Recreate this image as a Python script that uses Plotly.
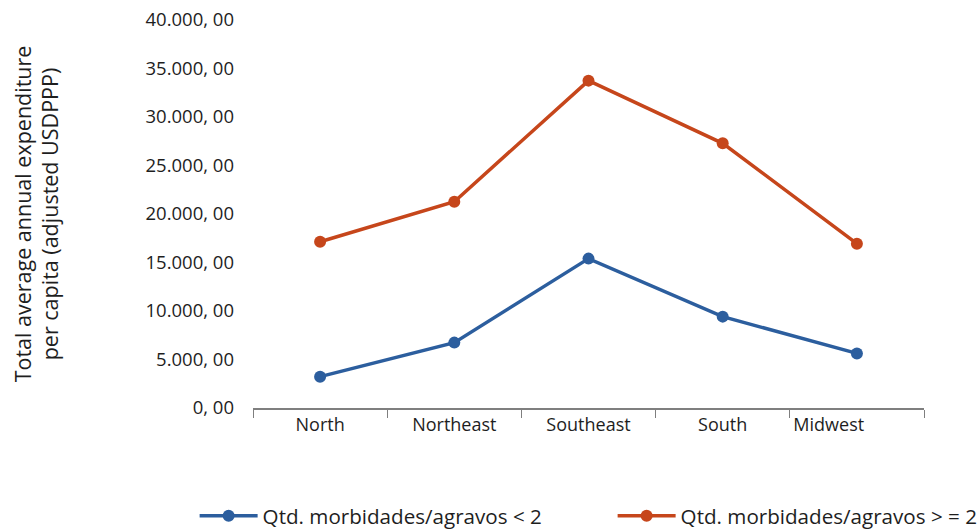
import plotly.graph_objects as go

# Regions and average annual expenditure per capita (adjusted USDPPP)
regions = ["North", "Northeast", "Southeast", "South", "Midwest"]
morb_lt2 = [3230, 6740, 15400, 9420, 5630]
morb_ge2 = [17140, 21270, 33750, 27290, 16940]

y_ticks = [0, 5000, 10000, 15000, 20000, 25000, 30000, 35000, 40000]
y_tick_labels = ["0, 00", "5.000, 00", "10.000, 00", "15.000, 00", "20.000, 00",
                 "25.000, 00", "30.000, 00", "35.000, 00", "40.000, 00"]

# Label anchor positions along the category axis (Midwest label sits left of its slot)
label_pos = [0, 1, 2, 3, 3.79]

x_idx = list(range(len(regions)))
boundaries = [i - 0.5 for i in range(len(regions) + 1)]

BLUE = "#2C5E9E"
ORANGE = "#C6461B"
FONT = "Open Sans"
TXT = "#1e1e1e"

fig = go.Figure()
fig.add_trace(go.Scatter(
    x=x_idx, y=morb_lt2, mode="lines+markers",
    name="Qtd. morbidades/agravos < 2",
    line=dict(color=BLUE, width=3.5),
    marker=dict(color=BLUE, size=12),
))
fig.add_trace(go.Scatter(
    x=x_idx, y=morb_ge2, mode="lines+markers",
    name="Qtd. morbidades/agravos > = 2",
    line=dict(color=ORANGE, width=3.5),
    marker=dict(color=ORANGE, size=12),
))

fig.update_layout(
    width=977, height=529,
    margin=dict(l=253, r=53, t=20, b=121, autoexpand=False),
    paper_bgcolor="white", plot_bgcolor="white",
    font=dict(family=FONT, color=TXT, size=16),
    showlegend=True,
    legend=dict(
        orientation="h", xref="paper", yref="paper",
        x=-0.087, xanchor="left", y=-0.278, yanchor="middle",
        font=dict(family=FONT, size=20.6, color=TXT),
        itemwidth=58, entrywidth=345, tracegroupgap=0,
    ),
    xaxis=dict(
        type="linear", range=[-0.5, 4.5],
        tickmode="array", tickvals=label_pos, ticktext=regions,
        ticks="", showgrid=False, zeroline=False,
        showline=True, linecolor="#7f7f7f", linewidth=1.5,
        tickfont=dict(family=FONT, size=18, color=TXT),
        minor=dict(tickmode="array", tickvals=boundaries, ticks="outside",
                   ticklen=8, tickwidth=1.2, tickcolor="#7f7f7f", showgrid=False),
    ),
    yaxis=dict(
        range=[0, 40000], tickmode="array", tickvals=y_ticks, ticktext=y_tick_labels,
        showgrid=False, zeroline=False, showline=False, ticks="",
        ticklabelstandoff=18,
        tickfont=dict(family=FONT, size=18.5, color=TXT),
        title=dict(text="Total average annual expenditure<br>per capita (adjusted USDPPP)",
                   font=dict(family=FONT, size=21.5, color=TXT), standoff=80),
    ),
)

fig.write_html("out.html")
